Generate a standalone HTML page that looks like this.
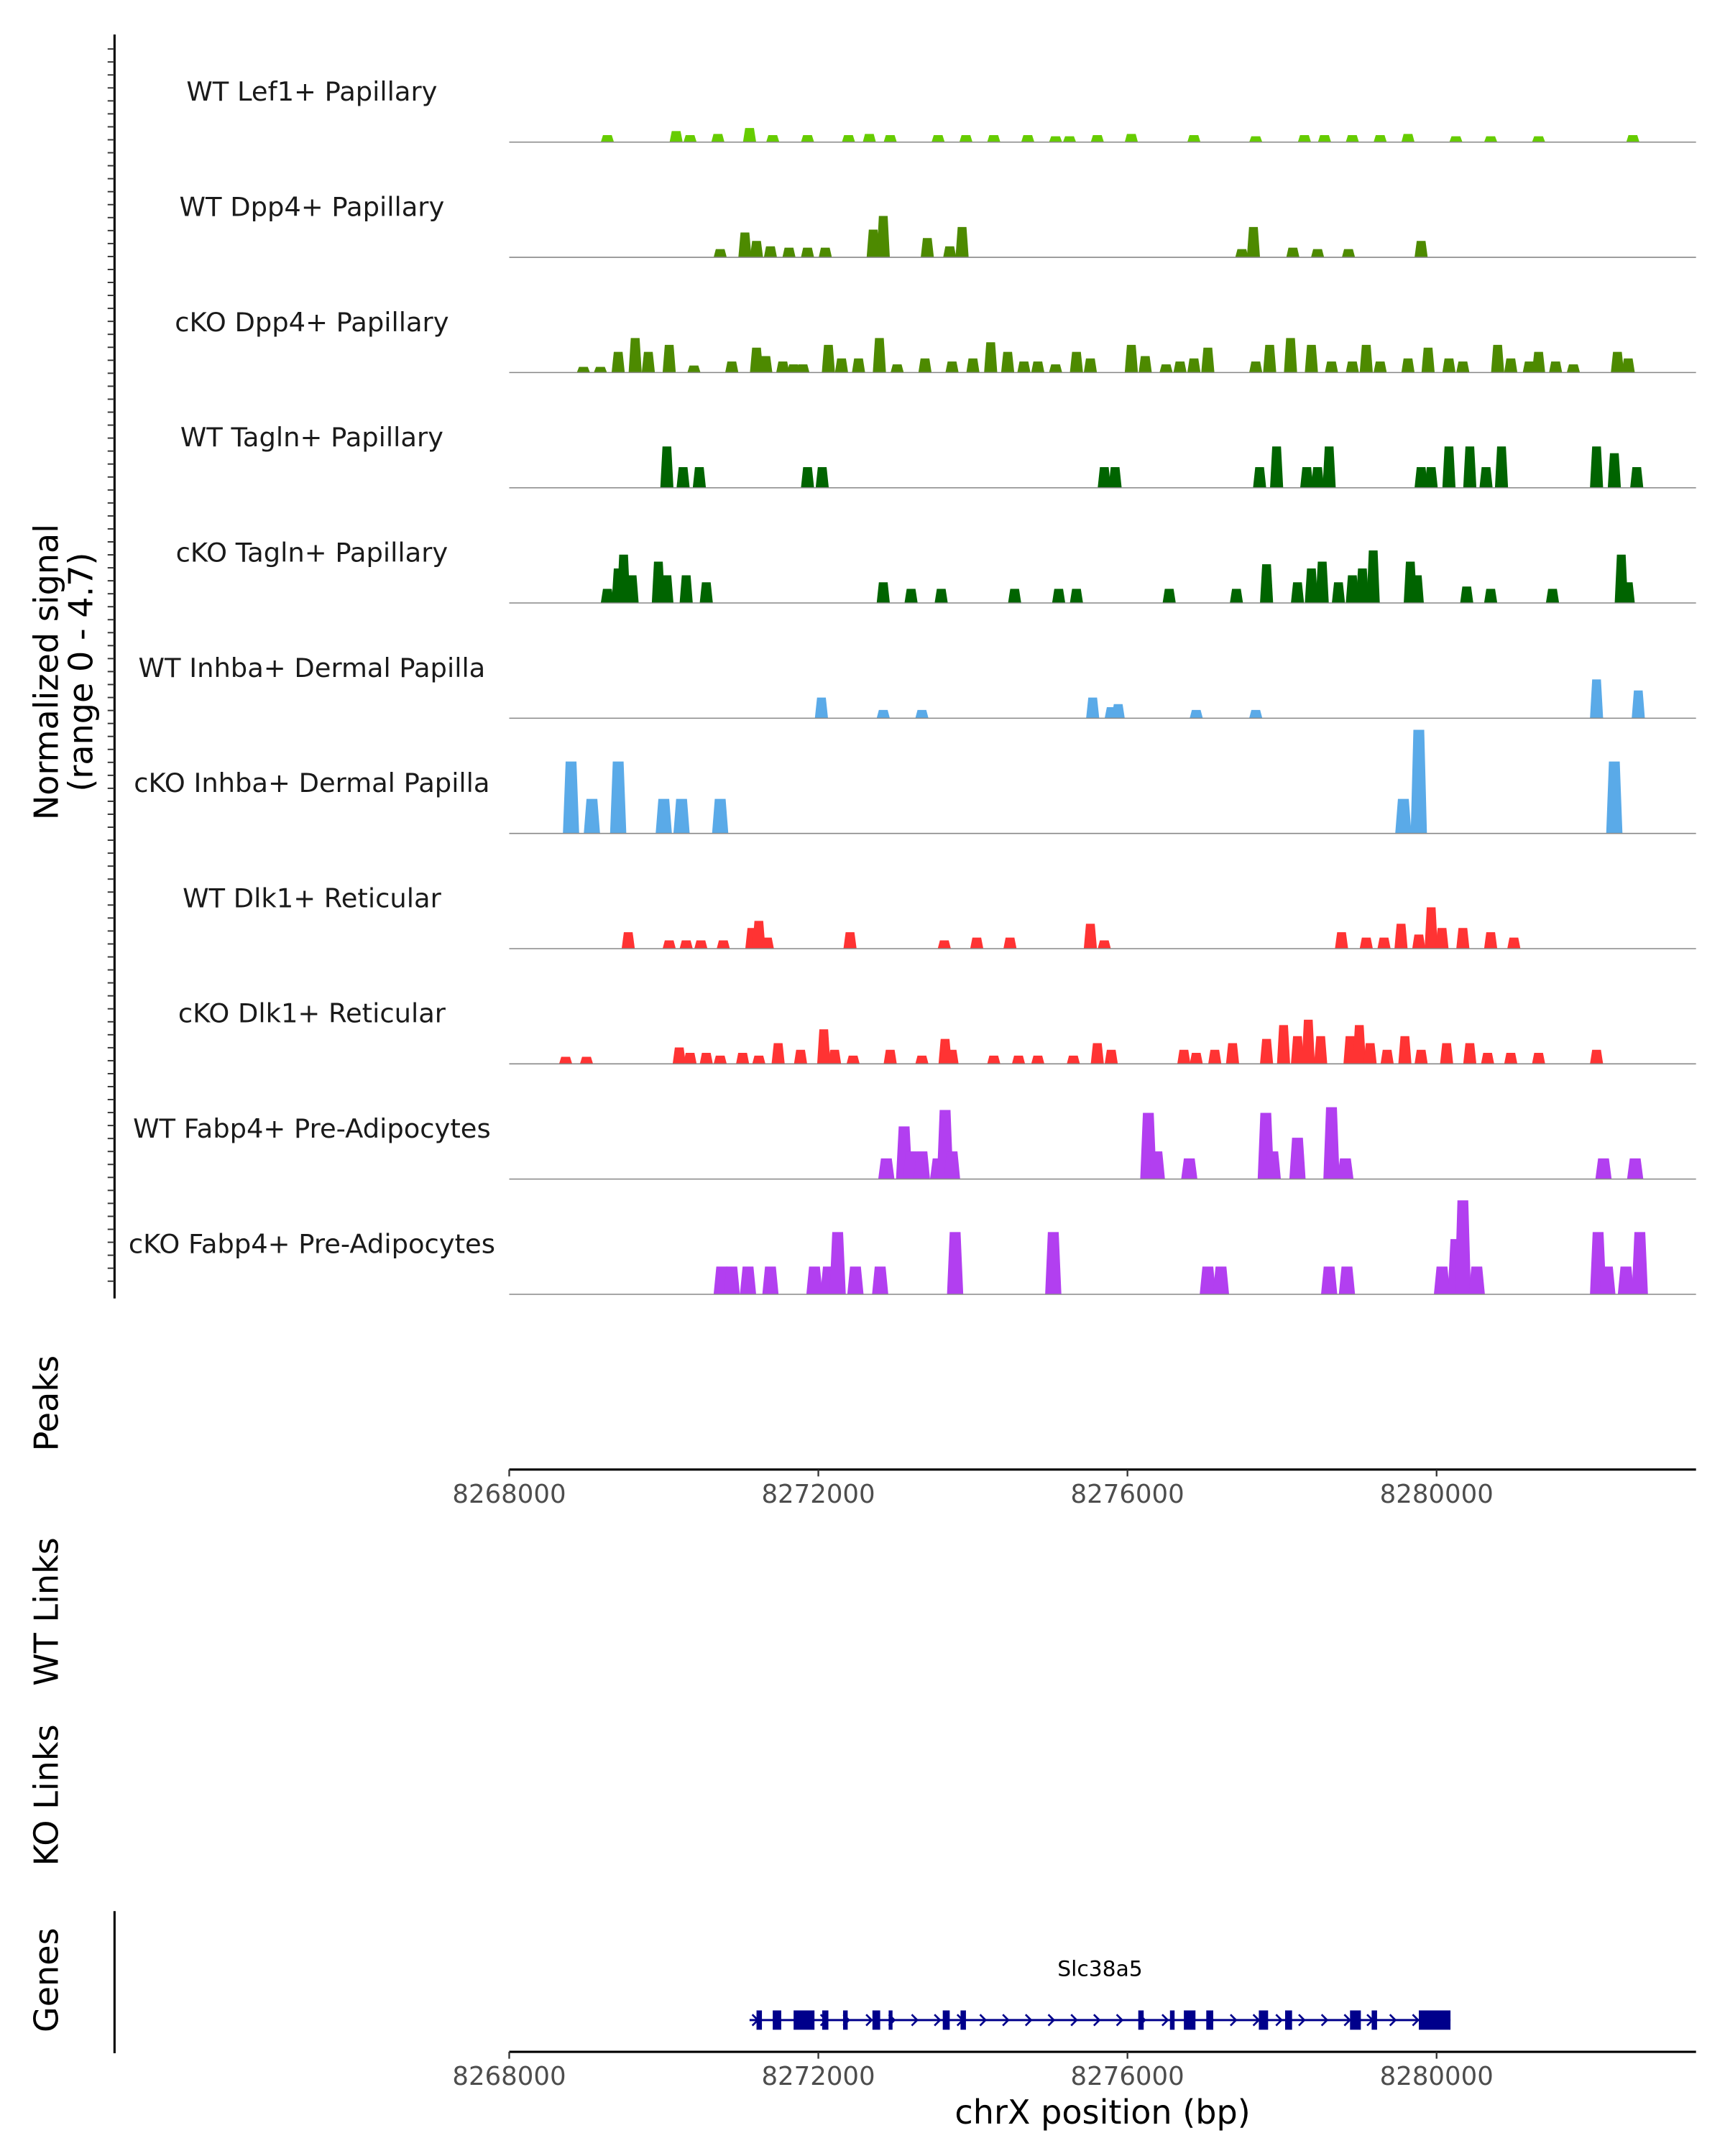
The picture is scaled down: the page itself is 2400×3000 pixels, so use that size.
<!DOCTYPE html>
<html><head><meta charset="utf-8"><style>
html,body{margin:0;padding:0;background:#fff;}
svg{display:block;}
text{font-family:"DejaVu Sans","Liberation Sans",sans-serif;}
</style></head><body>
<svg id="chart" width="2400" height="3000" viewBox="0 0 1250 1562.5" xmlns="http://www.w3.org/2000/svg">
<g id="tracks"></g>
<g id="axes"></g>
<g id="genes"></g>
</svg>
<script>
const trackNames = ["WT Lef1+ Papillary","WT Dpp4+ Papillary","cKO Dpp4+ Papillary","WT Tagln+ Papillary","cKO Tagln+ Papillary","WT Inhba+ Dermal Papilla","cKO Inhba+ Dermal Papilla","WT Dlk1+ Reticular","cKO Dlk1+ Reticular","WT Fabp4+ Pre-Adipocytes","cKO Fabp4+ Pre-Adipocytes"];
const trackColors = ["#66cc00","#4d8a00","#4d8a00","#006400","#006400","#5aaae8","#5aaae8","#ff3333","#ff3333","#b23ff0","#b23ff0"];
const xTicks = [8268000,8272000,8276000,8280000];
const pos1=[8269270,8270160,8270340,8270700,8271110,8271410,8271860,8272390,8272660,8272930,8273550,8273910,8274270,8274710,8275070,8275250,8275610,8276050,8276860,8277660,8278290,8278550,8278910,8279270,8279630,8280250,8280700,8281320,8282540];
const val1=[0.3,0.47,0.3,0.35,0.6,0.3,0.3,0.3,0.35,0.3,0.3,0.3,0.3,0.3,0.25,0.25,0.3,0.35,0.3,0.25,0.3,0.3,0.3,0.3,0.35,0.25,0.25,0.25,0.3];
const pos2=[8270730,8271050,8271200,8271380,8271620,8271860,8272090,8272710,8272840,8273410,8273700,8273860,8277480,8277630,8278140,8278460,8278860,8279800];
const val2=[0.35,1.06,0.7,0.47,0.41,0.41,0.41,1.18,1.76,0.82,0.47,1.29,0.35,1.29,0.41,0.35,0.35,0.7];
const pos3=[8268960,8269180,8269410,8269630,8269800,8270070,8270390,8270880,8271200,8271320,8271540,8271680,8271800,8272130,8272300,8272520,8272790,8273020,8273380,8273730,8274000,8274230,8274450,8274660,8274840,8275070,8275340,8275520,8276050,8276230,8276500,8276680,8276860,8277040,8277660,8277840,8278110,8278380,8278640,8278910,8279090,8279270,8279630,8279890,8280160,8280340,8280790,8280960,8281200,8281320,8281540,8281770,8282340,8282480];
const val3=[0.24,0.24,0.88,1.47,0.88,1.18,0.3,0.47,1.06,0.7,0.47,0.35,0.35,1.18,0.6,0.6,1.47,0.35,0.6,0.47,0.6,1.29,0.88,0.47,0.47,0.35,0.88,0.6,1.18,0.7,0.35,0.47,0.6,1.06,0.47,1.18,1.47,1.18,0.47,0.47,1.18,0.47,0.6,1.06,0.6,0.47,1.18,0.6,0.47,0.88,0.47,0.35,0.88,0.6];
const pos4=[8270040,8270250,8270460,8271860,8272050,8275700,8275840,8277710,8277930,8278320,8278460,8278610,8279800,8279930,8280160,8280430,8280640,8280840,8282070,8282300,8282590];
const val4=[1.76,0.88,0.88,0.88,0.88,0.88,0.88,0.88,1.76,0.88,0.88,1.76,0.88,0.88,1.76,1.76,0.88,1.76,1.76,1.47,0.88];
const pos5=[8269270,8269410,8269480,8269590,8269930,8270040,8270290,8270550,8272840,8273200,8273590,8274540,8275110,8275340,8276540,8277410,8277800,8278200,8278380,8278520,8278730,8278910,8279040,8279180,8279660,8279750,8280390,8280700,8281500,8282390,8282480];
const val5=[0.6,1.47,2.06,1.18,1.76,1.18,1.18,0.88,0.88,0.6,0.6,0.6,0.6,0.6,0.6,0.6,1.65,0.88,1.47,1.76,0.88,1.18,1.47,2.24,1.76,1.18,0.7,0.6,0.6,2.06,0.88];
const pos6=[8272040,8272840,8273340,8275550,8275790,8275880,8276890,8277660,8282070,8282610];
const val6=[0.88,0.35,0.35,0.88,0.47,0.6,0.35,0.35,1.65,1.18];
const pos7=[8268800,8269070,8269410,8270000,8270230,8270730,8279570,8279770,8282300];
const val7=[3.06,1.47,3.06,1.47,1.47,1.47,1.47,4.41,3.06];
const pos8=[8269540,8270070,8270290,8270480,8270770,8271140,8271230,8271340,8272410,8273630,8274050,8274480,8275520,8275700,8278770,8279090,8279320,8279540,8279770,8279930,8280070,8280340,8280700,8281000];
const val8=[0.7,0.35,0.35,0.35,0.35,0.88,1.18,0.47,0.7,0.35,0.47,0.47,1.06,0.35,0.7,0.47,0.47,1.06,0.6,1.76,0.88,0.88,0.7,0.47];
const pos9=[8268730,8269000,8270200,8270340,8270550,8270730,8271020,8271230,8271480,8271770,8272070,8272210,8272450,8272930,8273340,8273640,8273730,8274270,8274590,8274840,8275300,8275610,8275790,8276730,8276890,8277130,8277360,8277800,8278020,8278200,8278340,8278500,8278880,8279000,8279140,8279360,8279590,8279800,8280130,8280430,8280660,8280960,8281320,8282070];
const val9=[0.3,0.3,0.7,0.47,0.47,0.35,0.47,0.35,0.88,0.6,1.47,0.6,0.35,0.6,0.35,1.06,0.6,0.35,0.35,0.35,0.35,0.88,0.6,0.6,0.47,0.6,0.88,1.06,1.65,1.18,1.88,1.18,1.18,1.65,0.88,0.6,1.18,0.6,0.88,0.88,0.47,0.47,0.47,0.6];
const pos10=[8272880,8273110,8273200,8273340,8273550,8273640,8273730,8276270,8276380,8276800,8277790,8277880,8278200,8278640,8278820,8282160,8282570];
const val10=[0.88,2.24,1.18,1.18,0.88,2.94,1.18,2.82,1.18,0.88,2.82,1.18,1.76,3.06,0.88,0.88,0.88];
const pos11=[8270750,8270880,8271090,8271380,8271950,8272130,8272250,8272480,8272800,8273770,8275040,8277040,8277210,8278610,8278840,8280070,8280250,8280340,8280520,8282090,8282210,8282450,8282630];
const val11=[1.18,1.18,1.18,1.18,1.18,1.18,2.65,1.18,1.18,2.65,2.65,1.18,1.18,1.18,1.18,1.18,2.35,4.0,1.18,2.65,1.18,1.18,2.65];
const trackPos=[pos1,pos2,pos3,pos4,pos5,pos6,pos7,pos8,pos9,pos10,pos11];
const trackVal=[val1,val2,val3,val4,val5,val6,val7,val8,val9,val10,val11];
const exonStarts=[8271200,8271410,8271680,8272050,8272320,8272700,8272910,8273610,8273840,8276140,8276550,8276730,8277020,8277700,8278040,8278880,8279160,8279770];
const exonEnds=[8271270,8271520,8271950,8272130,8272380,8272800,8272960,8273700,8273910,8276210,8276610,8276880,8277110,8277820,8278130,8279020,8279230,8280180];
const geneStart=8271110, geneEnd=8280180, geneName="Slc38a5";

const NS="http://www.w3.org/2000/svg";
const X0=369, X1=1229, BP0=8268000, PXBP=672/12000;
const RANGE=4.7, TRACKH=80;
function xs(bp){return X0+(bp-BP0)*PXBP;}
function baseY(i){return 103+i*83.5;}
function ys(i,v){return baseY(i)-v/RANGE*TRACKH;}
function mk(tag,attrs,parent){const e=document.createElementNS(NS,tag);for(const k in attrs)e.setAttribute(k,attrs[k]);parent.appendChild(e);return e;}
const gT=document.getElementById('tracks');
const widths=[170,170,170,170,170,170,210,170,170,210,210];
trackNames.forEach((name,i)=>{
  const g=mk('g',{},gT);
  
  
  const t=mk('text',{x:226,y:baseY(i)-30,'font-size':19.2,'text-anchor':'middle',fill:'#1a1a1a'},g);
  t.textContent=name;
  
  
  const p=trackPos[i], v=trackVal[i], w=widths[i], b=baseY(i);
  for(let k=0;k<p.length;k++){
    const a=xs(p[k]-w/2), c=xs(p[k]+w/2), a2=xs(p[k]-w/3), c2=xs(p[k]+w/3), top=ys(i,v[k]);
    const poly=mk('polygon',{points:`${a},${b} ${a2},${top} ${c2},${top} ${c},${b}`,fill:trackColors[i]},g);
    
    
  }
  const bl=mk('line',{x1:X0,x2:X1,y1:b,y2:b,stroke:'#888',"stroke-width":0.8},g);
  
  
});
const gA=document.getElementById('axes');
let l=mk('line',{x1:83,x2:83,y1:25,y2:941,stroke:'#000','stroke-width':1.6},gA);


for(let y=35.5;y<=936;y+=9.4){mk('line',{x1:78,x2:83,y1:y,y2:y,stroke:'#333','stroke-width':1},gA);}
function vtitle(txt,cx,cy,name,size){const t=mk('text',{x:0,y:0,'font-size':size||24,'text-anchor':'middle',fill:'#000',transform:`translate(${cx},${cy}) rotate(-90)`},gA);t.textContent=txt;return t;}
vtitle('Normalized signal',42,487,'y-axis-title');
vtitle('(range 0 - 4.7)',67,487,'y-axis-range');
vtitle('Peaks',42,1017,'peaks-title');
vtitle('WT Links',42,1168,'wt-links-title');
vtitle('KO Links',42,1301,'ko-links-title');
vtitle('Genes',42,1435,'genes-title');
function xaxis(y,name){
  const g=mk('g',{},gA);
  
  
  mk('line',{x1:X0,x2:X1,y1:y,y2:y,stroke:'#000','stroke-width':1.6},g);
  xTicks.forEach(tk=>{
    mk('line',{x1:xs(tk),x2:xs(tk),y1:y,y2:y+5,stroke:'#333','stroke-width':1.2},g);
    const t=mk('text',{x:xs(tk),y:y+24,'font-size':18.5,'text-anchor':'middle',fill:'#4d4d4d'},g);
    t.textContent=tk;
    
    
  });
}
xaxis(1065,'peaks-x-axis');
xaxis(1487,'genes-x-axis');
let xt=mk('text',{x:799,y:1539,'font-size':24,'text-anchor':'middle',fill:'#000'},gA);
xt.textContent='chrX position (bp)';


l=mk('line',{x1:83,x2:83,y1:1385,y2:1488,stroke:'#000','stroke-width':1.6},gA);


const gG=document.getElementById('genes');
const gy=1464;
let gl=mk('line',{x1:xs(geneStart),x2:xs(geneEnd),y1:gy,y2:gy,stroke:'#00008b','stroke-width':1.6},gG);


for(let x=xs(geneStart)+2;x<xs(geneEnd)-6;x+=16.5){
  mk('polyline',{points:`${x},${gy-4} ${x+4},${gy} ${x},${gy+4}`,fill:'none',stroke:'#00008b','stroke-width':1.4},gG);
}
for(let k=0;k<exonStarts.length;k++){
  const r=mk('rect',{x:xs(exonStarts[k]),y:gy-7,width:Math.max(2,xs(exonEnds[k])-xs(exonStarts[k])),height:14,fill:'#00008b'},gG);
  
  
}
let gn=mk('text',{x:(xs(geneStart)+xs(geneEnd))/2,y:1432,'font-size':15.5,'text-anchor':'middle',fill:'#000'},gG);
gn.textContent=geneName;


</script>
</body></html>
